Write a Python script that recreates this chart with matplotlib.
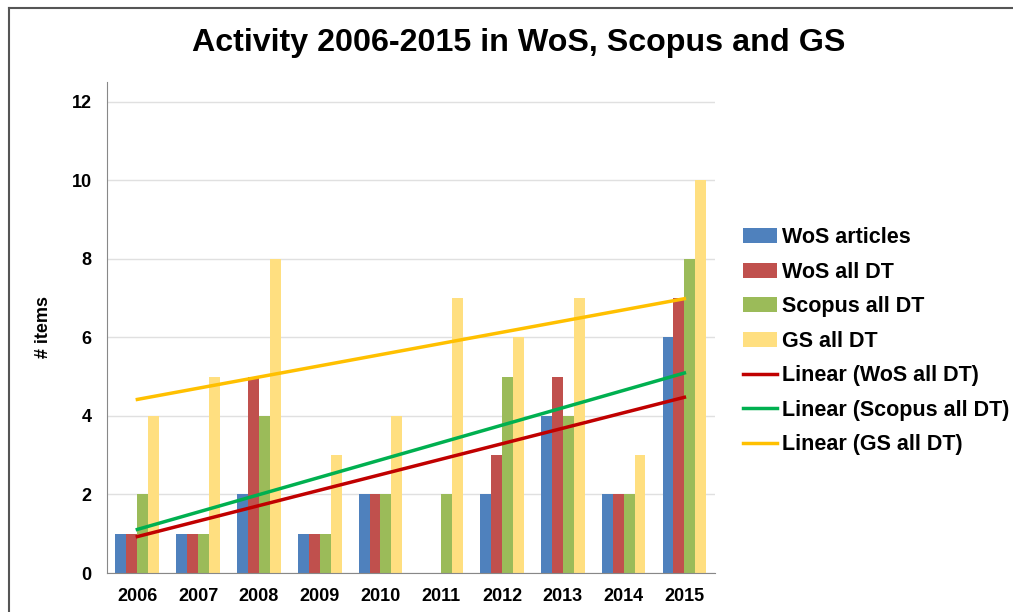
import matplotlib.pyplot as plt
import numpy as np
from matplotlib.lines import Line2D

years = ['2006', '2007', '2008', '2009', '2010', '2011', '2012', '2013', '2014', '2015']
wos_articles = [1, 1, 2, 1, 2, 0, 2, 4, 2, 6]
wos_all = [1, 1, 5, 1, 2, 0, 3, 5, 2, 7]
scopus_all = [2, 1, 4, 1, 2, 2, 5, 4, 2, 8]
gs_all = [4, 5, 8, 3, 4, 7, 6, 7, 3, 10]

plt.rcParams['font.family'] = ['Liberation Sans', 'DejaVu Sans']
plt.rcParams['font.weight'] = 'bold'

fig = plt.figure(figsize=(10.13, 6.12), dpi=100)
ax = fig.add_axes([0.1056, 0.0637, 0.6, 0.8025])

x = np.arange(len(years))
w = 0.18
series = [
    ('WoS articles', wos_articles, '#4F81BD'),
    ('WoS all DT', wos_all, '#C0504D'),
    ('Scopus all DT', scopus_all, '#9BBB59'),
    ('GS all DT', gs_all, '#FFDF80'),
]
handles = []
for i, (name, vals, col) in enumerate(series):
    h = ax.bar(x + (i - 1.5) * w, vals, w, color=col, label=name, zorder=2)
    handles.append(h)

# linear trendlines
trends = [
    ('Linear (WoS all DT)', wos_all, '#C00000'),
    ('Linear (Scopus all DT)', scopus_all, '#00B050'),
    ('Linear (GS all DT)', gs_all, '#FFC000'),
]
for name, vals, col in trends:
    m, b = np.polyfit(x, vals, 1)
    h, = ax.plot(x, m * x + b, color=col, lw=2.5, label=name, zorder=3)
    handles.append(h)

ax.set_xlim(-0.5, len(years) - 0.5)
ax.set_ylim(0, 12.5)
ax.set_yticks(range(0, 13, 2))
ax.set_xticks(x)
ax.set_xticklabels(years)
ax.tick_params(length=0, labelsize=13)
ax.tick_params(axis='x', pad=11)
ax.tick_params(axis='y', pad=11)
ax.yaxis.grid(True, color='#E0E0E0', lw=1, zorder=0)
for s in ['top', 'right']:
    ax.spines[s].set_visible(False)
for s in ['left', 'bottom']:
    ax.spines[s].set_color('#888888')
ax.set_ylabel('# items', fontsize=13, fontweight='bold', labelpad=14)

fig.text(0.512, 0.93, 'Activity 2006-2015 in WoS, Scopus and GS', fontsize=23.2,
         fontweight='bold', ha='center', va='center')

ax.legend(handles=handles, loc='center left', bbox_to_anchor=(1.032, 0.472),
          frameon=False, fontsize=15.5, handlelength=1.6, handletextpad=0.23,
          labelspacing=0.63, borderaxespad=0)

# screenshot frame
fig.add_artist(Line2D([9 / 1013, 9 / 1013], [0, 1 - 8 / 612], color='#555555',
                      lw=1.5, transform=fig.transFigure))
fig.add_artist(Line2D([9 / 1013, 1], [1 - 8 / 612, 1 - 8 / 612], color='#555555',
                      lw=1.5, transform=fig.transFigure))

fig.savefig('out.png', dpi=100)
